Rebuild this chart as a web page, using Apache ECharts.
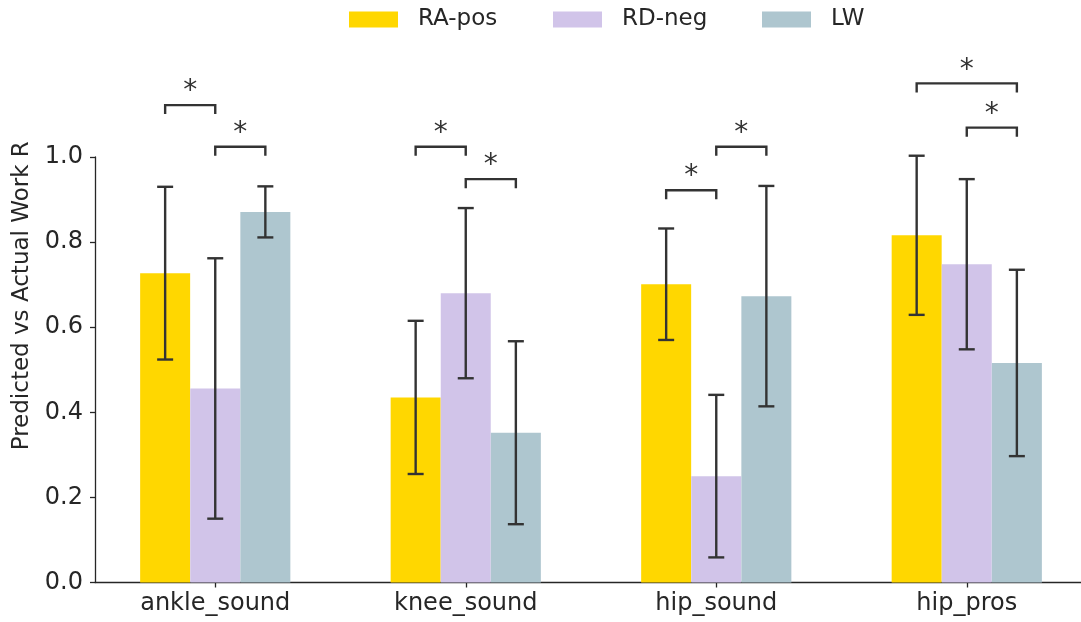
<!DOCTYPE html>
<html><head><meta charset="utf-8">
<script src="https://cdn.jsdelivr.net/npm/echarts@6/dist/echarts.min.js"></script>
<style>html,body{margin:0;padding:0;background:#fff}#c{width:1081px;height:622px}</style>
</head><body><div id="c"></div>
<script>
// ---- data ----
const categories = ['ankle_sound', 'knee_sound', 'hip_sound', 'hip_pros'];
const seriesNames = ['RA-pos', 'RD-neg', 'LW'];
const raPos = [0.727, 0.435, 0.701, 0.816];
const rdNeg = [0.456, 0.680, 0.250, 0.748];
const lw    = [0.871, 0.352, 0.673, 0.516];
const raStd = [0.203, 0.180, 0.131, 0.187];
const rdStd = [0.306, 0.200, 0.191, 0.200];
const lwStd = [0.060, 0.215, 0.259, 0.219];
const yTicks = [0, 0.2, 0.4, 0.6, 0.8, 1.0];
// significance brackets: category, from-series, to-series, bracket level
const bracketCat   = [0, 0, 1, 1, 2, 2, 3, 3];
const bracketFrom  = [0, 1, 0, 1, 0, 1, 0, 1];
const bracketTo    = [1, 2, 1, 2, 1, 2, 2, 2];
const bracketLevel = [1.122, 1.024, 1.024, 0.948, 0.922, 1.024, 1.173, 1.069];
const bracketText  = ['*', '*', '*', '*', '*', '*', '*', '*'];

// ---- style / layout ----
const FONT = 'DejaVu Sans';
const INK = '#262626';
const colors = ['#FFD700', '#D1C4E9', '#AEC6CF'];
const offsets = [-0.2, 0, 0.2];
const legendLeft = [349, 553, 762];

const means = [raPos, rdNeg, lw];
const stds = [raStd, rdStd, lwStd];

const chart = echarts.init(document.getElementById('c'), null, {renderer: 'canvas'});

const barSeries = seriesNames.map((n, s) => ({
  type: 'bar', name: n, barWidth: 50, barGap: '-100%', z: 2, silent: true,
  itemStyle: {color: colors[s]},
  data: categories.map((c, i) => [i + offsets[s], means[s][i]])
}));

const errData = [];
seriesNames.forEach((n, s) => categories.forEach((c, i) =>
  errData.push([i + offsets[s], means[s][i] - stds[s][i], means[s][i] + stds[s][i]])));

const errSeries = {
  type: 'custom', z: 5, silent: true, data: errData, encode: {x: 0, y: [1, 2]},
  renderItem(params, api) {
    const lo = api.coord([api.value(0), api.value(1)]);
    const hi = api.coord([api.value(0), api.value(2)]);
    const cap = 8, st = {stroke: '#333', lineWidth: 2.4};
    return {type: 'group', children: [
      {type: 'line', shape: {x1: lo[0], y1: lo[1], x2: hi[0], y2: hi[1]}, style: st},
      {type: 'line', shape: {x1: lo[0] - cap, y1: lo[1], x2: lo[0] + cap, y2: lo[1]}, style: st},
      {type: 'line', shape: {x1: hi[0] - cap, y1: hi[1], x2: hi[0] + cap, y2: hi[1]}, style: st}
    ]};
  }
};

const brData = bracketCat.map((c, k) => [c + offsets[bracketFrom[k]], c + offsets[bracketTo[k]], bracketLevel[k], k]);
const brSeries = {
  type: 'custom', z: 6, silent: true, clip: false, data: brData, encode: {x: [0, 1], y: 2},
  renderItem(params, api) {
    const a = api.coord([api.value(0), api.value(2)]);
    const b = api.coord([api.value(1), api.value(2)]);
    const leg = 9;
    const k = api.value(3);
    return {type: 'group', children: [
      {type: 'polyline', shape: {points: [[a[0], a[1] + leg], [a[0], a[1]], [b[0], b[1]], [b[0], b[1] + leg]]},
       style: {stroke: '#333', lineWidth: 2.4, fill: null}},
      {type: 'text', x: (a[0] + b[0]) / 2, y: a[1] - 13,
       style: {text: bracketText[k], font: '28px "DejaVu Sans"', fill: '#333', align: 'center', verticalAlign: 'middle'}}
    ]};
  }
};

const option = {
  animation: false,
  backgroundColor: '#fff',
  textStyle: {fontFamily: FONT},
  grid: {left: 95, right: 0, top: 157, bottom: 39.5},
  legend: seriesNames.map((n, s) => ({
    data: [n], left: legendLeft[s], top: 8, padding: 0, itemWidth: 49, itemHeight: 16, icon: 'rect',
    selectedMode: false,
    textStyle: {fontFamily: FONT, fontSize: 23, color: INK, padding: [0, 0, 0, 15], lineHeight: 16}
  })),
  xAxis: {
    type: 'value', min: -0.48, max: 3.456,
    splitLine: {show: false},
    axisLine: {show: true, onZero: false, lineStyle: {color: INK, width: 1.3}},
    axisTick: {show: true, customValues: [0, 1, 2, 3], length: 5, lineStyle: {color: INK, width: 1.3}},
    axisLabel: {customValues: [0, 1, 2, 3], formatter: v => categories[Math.round(v)],
      fontFamily: FONT, fontSize: 24, color: INK, margin: 9}
  },
  yAxis: {
    type: 'value', min: 0, max: 1, interval: 0.2,
    name: 'Predicted vs Actual Work R', nameLocation: 'middle', nameGap: 56, nameRotate: 90,
    nameTextStyle: {fontFamily: FONT, fontSize: 23, color: INK, padding: [0, 0, 0, 148]},
    splitLine: {show: false},
    axisLine: {show: true, onZero: false, lineStyle: {color: INK, width: 1.3}},
    axisTick: {show: true, length: 5, lineStyle: {color: INK, width: 1.3}},
    axisLabel: {formatter: v => yTicks.includes(Math.round(v * 10) / 10) ? v.toFixed(1) : '',
      fontFamily: FONT, fontSize: 24, color: INK, margin: 12}
  },
  series: [...barSeries, errSeries, brSeries]
};
chart.setOption(option);
</script></body></html>
